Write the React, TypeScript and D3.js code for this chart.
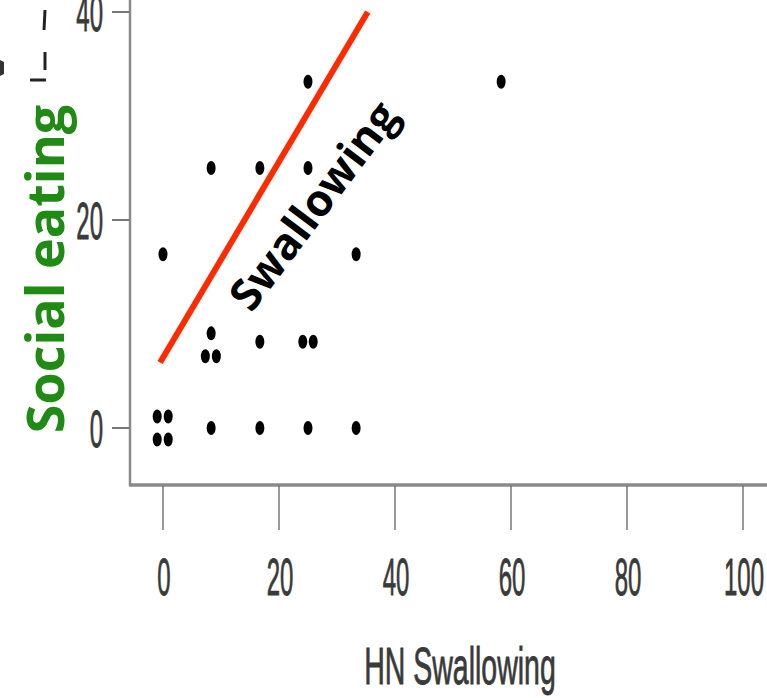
import * as d3 from "d3";

// scatter points (small jitter included as seen)
const xValues = [-1.0, 0.9, -1.0, 0.9, 8.3, 16.7, 25, 33.3, 8.3, 7.3, 9.2, 16.7, 24.1, 25.9, 0, 33.3, 8.3, 16.7, 25, 25, 58.3];
const yValues = [1.1, 1.1, -1.1, -1.1, 0, 0, 0, 0, 9.1, 6.9, 6.9, 8.3, 8.3, 8.3, 16.7, 16.7, 25, 25, 25, 33.3, 33.3];

const xTicks = [0, 20, 40, 60, 80, 100];
const yTicks = [0, 20, 40];

// hand drawn trend line, ends in data units
const trendX = [-0.5, 35.3];
const trendY = [6.3, 40];

const W = 767;
const H = 698;

export default function App() {
  const x = d3.scaleLinear().domain([0, 100]).range([163, 743]);
  const y = d3.scaleLinear().domain([0, 40]).range([428, 12]);
  const axisGray = "#8a8a8a";
  const labelGray = "#3a3a3a";
  const line = d3.line<number>().x((d) => x(trendX[d])).y((d) => y(trendY[d]));

  // stretched, slightly heavy look of the scanned labels
  const labelStyle = {
    fontFamily: "Liberation Sans, Arial, sans-serif",
    fontSize: 30,
    fill: labelGray,
    stroke: labelGray,
    strokeWidth: 0.5,
  };

  return (
    <svg width={W} height={H} style={{ position: "absolute", left: 0, top: 0, background: "#fff" }}>
      {/* axes */}
      <line x1={130} x2={130} y1={0} y2={486} stroke={axisGray} strokeWidth={2.5} />
      <line x1={129} x2={W} y1={485} y2={485} stroke={axisGray} strokeWidth={3.5} />
      {xTicks.map((t) => (
        <g key={"x" + t}>
          <line x1={x(t)} x2={x(t)} y1={485} y2={530} stroke="#777" strokeWidth={1.5} />
          <text transform={`translate(${x(t) + 1},595) scale(0.8,1.75)`} textAnchor="middle" {...labelStyle}>
            {t}
          </text>
        </g>
      ))}
      {yTicks.map((t) => (
        <g key={"y" + t}>
          <line x1={112} x2={130} y1={y(t)} y2={y(t)} stroke="#777" strokeWidth={2} />
          <text transform={`translate(103,${y(t) + 19}) scale(0.8,1.75)`} textAnchor="end" {...labelStyle}>
            {t}
          </text>
        </g>
      ))}
      <text transform="translate(460,684) scale(0.95,1.75)" textAnchor="middle" {...labelStyle}>
        HN Swallowing
      </text>

      {/* cut-off corner box with glyph fragments */}
      <rect x={0} y={0} width={44} height={80} fill="#fff" />
      <path d="M45,10 L44,30 M45,52 L45,70 M30,80 L46,80" stroke="#222" strokeWidth={3} fill="none" />
      <path d="M0,60 L4,62 L4,74 L0,76 Z" fill="#333" />

      {/* points */}
      {xValues.map((v, i) => (
        <ellipse key={i} cx={x(v)} cy={y(yValues[i])} rx={4.5} ry={7} fill="#000" />
      ))}

      {/* trend line */}
      <path d={line([0, 1]) ?? ""} stroke="#ff2a00" strokeWidth={6} fill="none" />
      <text
        transform="translate(326,215) rotate(-53)"
        textAnchor="middle"
        fontFamily="Open Sans, sans-serif"
        fontWeight="bold"
        fontSize={44}
        fill="#000"
      >
        Swallowing
      </text>

      <text
        transform="translate(64,269) rotate(-90)"
        textAnchor="middle"
        fontFamily="Open Sans, sans-serif"
        fontWeight="bold"
        fontSize={52}
        fill="#1f8a14"
      >
        Social eating
      </text>
    </svg>
  );
}
